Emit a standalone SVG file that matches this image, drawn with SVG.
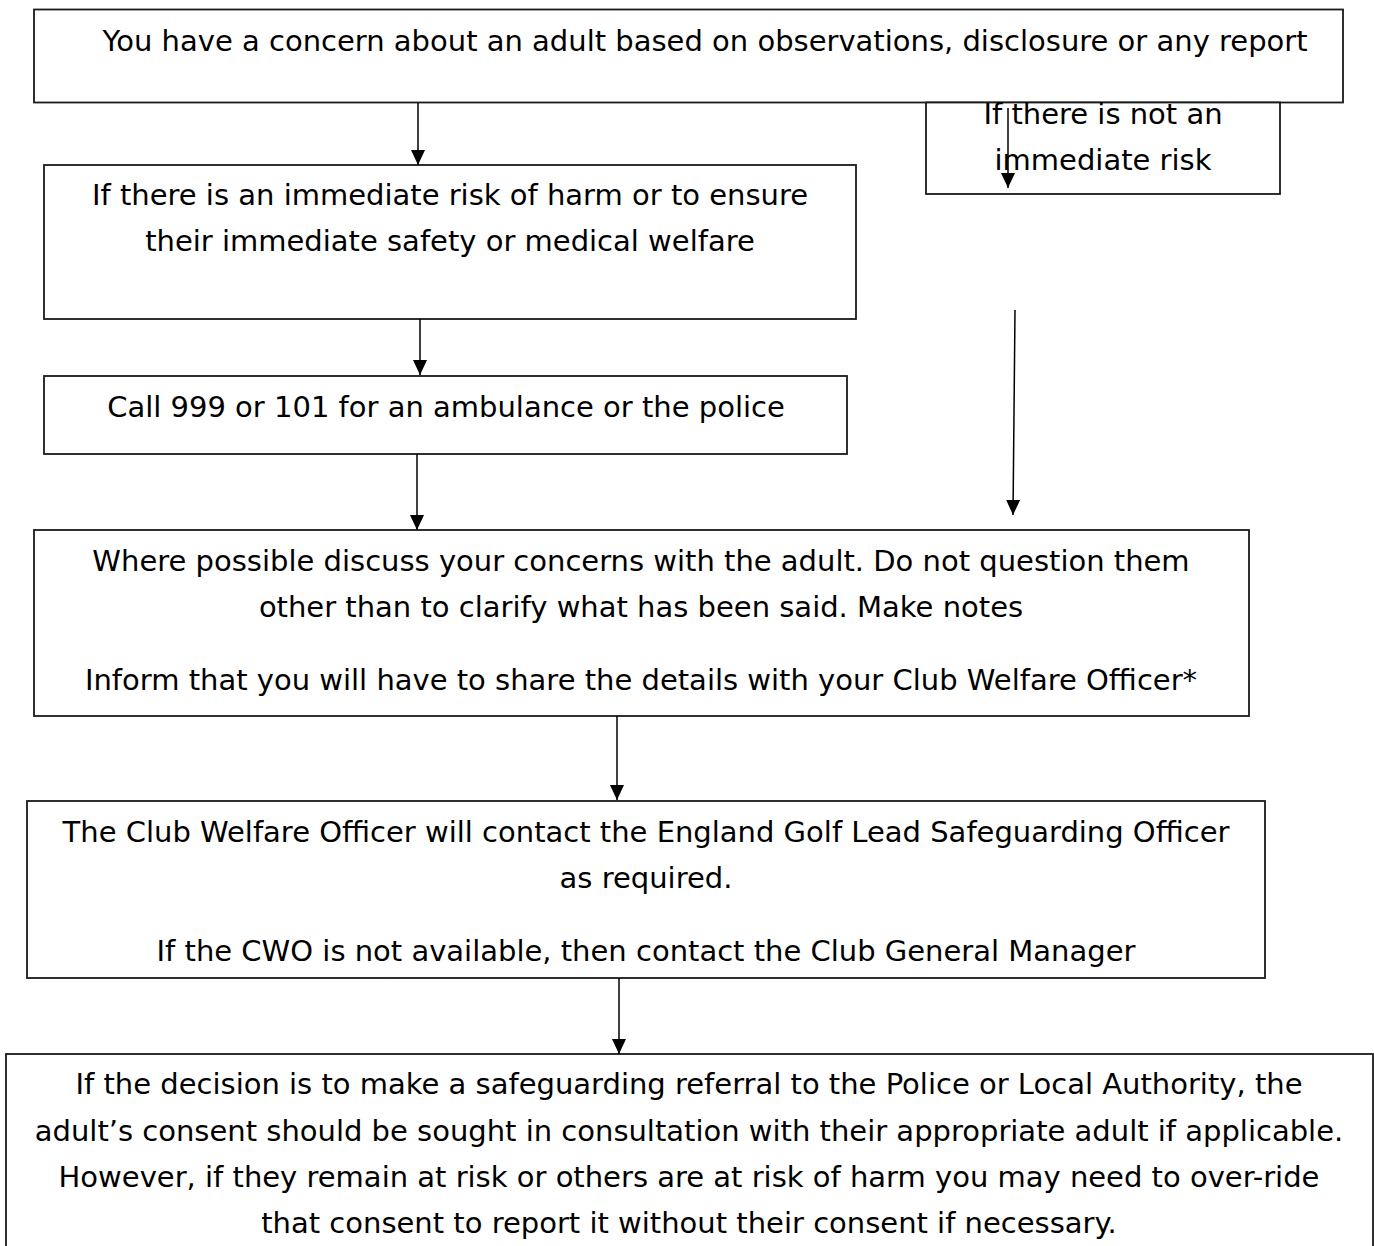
<svg xmlns="http://www.w3.org/2000/svg" width="1374" height="1246" viewBox="0 0 1374 1246">
<defs>
<marker id="ah" viewBox="0 0 15 14" refX="15" refY="7" markerWidth="15" markerHeight="14" markerUnits="userSpaceOnUse" orient="auto">
<path d="M0,0 L15,7 L0,14 Z" fill="#000"/>
</marker>
<style>
.box{fill:#fff;stroke:#1a1a1a;stroke-width:1.8}
.t{font-family:"DejaVu Sans","Verdana",sans-serif;font-size:29px;fill:#000;text-anchor:middle}
.c{stroke:#000;stroke-width:1.5;fill:none;marker-end:url(#ah)}
</style>
</defs>
<rect width="1374" height="1246" fill="#fff"/>
<g id="n1"><rect class="box" x="34" y="9.5" width="1309" height="93"/>
<text class="t" x="705" y="51">You have a concern about an adult based on observations, disclosure or any report</text></g>
<g id="n2"><rect class="box" x="926" y="102.5" width="354" height="91.5"/>
<text class="t" x="1103" y="124">If there is not an</text>
<text class="t" x="1103" y="170">immediate risk</text></g>
<g id="n3"><rect class="box" x="44" y="165" width="812" height="154"/>
<text class="t" x="450" y="205">If there is an immediate risk of harm or to ensure</text>
<text class="t" x="450" y="251">their immediate safety or medical welfare</text></g>
<g id="n4"><rect class="box" x="44" y="376" width="803" height="78"/>
<text class="t" x="446" y="417">Call 999 or 101 for an ambulance or the police</text></g>
<g id="n5"><rect class="box" x="34" y="530" width="1215" height="186"/>
<text class="t" x="641" y="571">Where possible discuss your concerns with the adult. Do not question them</text>
<text class="t" x="641" y="617">other than to clarify what has been said. Make notes</text>
<text class="t" x="641" y="690">Inform that you will have to share the details with your Club Welfare Officer*</text></g>
<g id="n6"><rect class="box" x="27" y="801" width="1238" height="177"/>
<text class="t" x="646" y="842">The Club Welfare Officer will contact the England Golf Lead Safeguarding Officer</text>
<text class="t" x="646" y="888">as required.</text>
<text class="t" x="646" y="961">If the CWO is not available, then contact the Club General Manager</text></g>
<g id="n7"><rect class="box" x="6" y="1054" width="1367" height="220"/>
<text class="t" x="689" y="1094">If the decision is to make a safeguarding referral to the Police or Local Authority, the</text>
<text class="t" x="689" y="1141">adult’s consent should be sought in consultation with their appropriate adult if applicable.</text>
<text class="t" x="689" y="1187">However, if they remain at risk or others are at risk of harm you may need to over-ride</text>
<text class="t" x="689" y="1233">that consent to report it without their consent if necessary.</text></g>
<g id="connectors">
<line class="c" x1="418" y1="103" x2="418" y2="165"/>
<line class="c" x1="1008" y1="108" x2="1008" y2="188"/>
<line class="c" x1="420" y1="319" x2="420" y2="375"/>
<line class="c" x1="417" y1="454" x2="417" y2="530"/>
<line class="c" x1="1015" y1="310" x2="1013" y2="515"/>
<line class="c" x1="617" y1="716" x2="617" y2="800"/>
<line class="c" x1="619" y1="978" x2="619" y2="1054"/>
</g>
</svg>
